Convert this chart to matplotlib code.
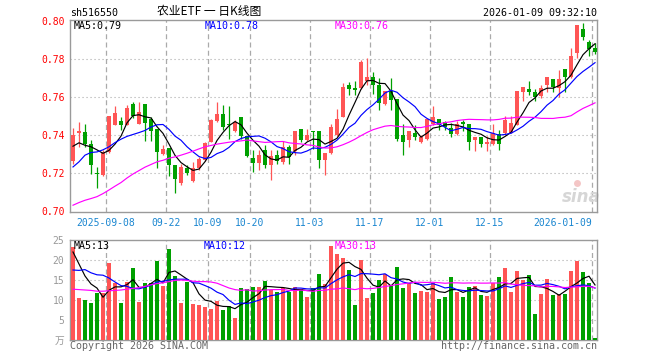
import matplotlib
matplotlib.use("Agg")
import matplotlib.pyplot as plt
import numpy as np

# ---------------- data ----------------
symbol = "sh516550"
title = "农业ETF 一 日K线图"
timestamp = "2026-01-09 09:32:10"

opens = [0.7265, 0.7412, 0.7419, 0.7354, 0.7197, 0.7189, 0.7309, 0.7456, 0.7477, 0.7456,
         0.7563, 0.7461, 0.7563, 0.7484, 0.7435, 0.7300, 0.7333, 0.7242, 0.7149, 0.7228,
         0.7160, 0.7225, 0.7268, 0.7365, 0.7474, 0.7511, 0.7458, 0.7423, 0.7498, 0.7396,
         0.7281, 0.7256, 0.7321, 0.7242, 0.7298, 0.7260, 0.7339, 0.7316, 0.7432, 0.7374,
         0.7421, 0.7421, 0.7272, 0.7304, 0.7400, 0.7496, 0.7663, 0.7646, 0.7646, 0.7686,
         0.7704, 0.7663, 0.7563, 0.7633, 0.7588, 0.7400, 0.7374, 0.7409, 0.7365, 0.7379,
         0.7461, 0.7484, 0.7470, 0.7440, 0.7405, 0.7467, 0.7461, 0.7377, 0.7388, 0.7356,
         0.7356, 0.7405, 0.7409, 0.7412, 0.7453, 0.7628, 0.7642, 0.7625, 0.7605, 0.7663,
         0.7693, 0.7649, 0.7747, 0.7707, 0.7830, 0.7958, 0.7891, 0.7856]
highs = [0.7439, 0.7467, 0.7461, 0.7374, 0.7233, 0.7321, 0.7500, 0.7554, 0.7496, 0.7558,
         0.7572, 0.7572, 0.7565, 0.7496, 0.7435, 0.7347, 0.7333, 0.7242, 0.7251, 0.7242,
         0.7260, 0.7286, 0.7363, 0.7484, 0.7572, 0.7558, 0.7553, 0.7479, 0.7498, 0.7396,
         0.7321, 0.7321, 0.7347, 0.7321, 0.7321, 0.7368, 0.7347, 0.7421, 0.7432, 0.7432,
         0.7423, 0.7421, 0.7304, 0.7461, 0.7540, 0.7672, 0.7681, 0.7684, 0.7795, 0.7804,
         0.7733, 0.7698, 0.7633, 0.7702, 0.7588, 0.7461, 0.7423, 0.7453, 0.7400, 0.7484,
         0.7554, 0.7484, 0.7474, 0.7465, 0.7474, 0.7479, 0.7461, 0.7388, 0.7388, 0.7395,
         0.7461, 0.7426, 0.7500, 0.7500, 0.7632, 0.7653, 0.7684, 0.7642, 0.7663, 0.7705,
         0.7693, 0.7742, 0.7747, 0.7856, 0.7979, 0.7988, 0.7900, 0.7882]
lows = [0.7251, 0.7339, 0.7339, 0.7195, 0.7123, 0.7185, 0.7304, 0.7453, 0.7426, 0.7453,
        0.7488, 0.7458, 0.7368, 0.7368, 0.7228, 0.7295, 0.7184, 0.7096, 0.7137, 0.7189,
        0.7154, 0.7216, 0.7265, 0.7362, 0.7470, 0.7426, 0.7379, 0.7418, 0.7379, 0.7286,
        0.7207, 0.7216, 0.7225, 0.7163, 0.7251, 0.7251, 0.7247, 0.7295, 0.7365, 0.7368,
        0.7330, 0.7230, 0.7189, 0.7300, 0.7396, 0.7496, 0.7611, 0.7611, 0.7642, 0.7663,
        0.7619, 0.7532, 0.7558, 0.7532, 0.7372, 0.7295, 0.7339, 0.7374, 0.7360, 0.7374,
        0.7453, 0.7426, 0.7426, 0.7391, 0.7400, 0.7420, 0.7323, 0.7319, 0.7339, 0.7319,
        0.7347, 0.7321, 0.7400, 0.7409, 0.7453, 0.7579, 0.7611, 0.7579, 0.7593, 0.7628,
        0.7625, 0.7602, 0.7628, 0.7698, 0.7804, 0.7900, 0.7818, 0.7825]
closes = [0.7400, 0.7423, 0.7354, 0.7242, 0.7195, 0.7309, 0.7500, 0.7519, 0.7453, 0.7542,
          0.7500, 0.7523, 0.7465, 0.7423, 0.7312, 0.7325, 0.7242, 0.7168, 0.7233, 0.7202,
          0.7230, 0.7277, 0.7361, 0.7482, 0.7511, 0.7442, 0.7453, 0.7470, 0.7396, 0.7291,
          0.7256, 0.7298, 0.7242, 0.7289, 0.7263, 0.7339, 0.7286, 0.7421, 0.7374, 0.7400,
          0.7416, 0.7272, 0.7304, 0.7442, 0.7484, 0.7654, 0.7642, 0.7640, 0.7786, 0.7707,
          0.7663, 0.7567, 0.7633, 0.7584, 0.7379, 0.7365, 0.7423, 0.7391, 0.7391, 0.7484,
          0.7498, 0.7453, 0.7444, 0.7404, 0.7458, 0.7458, 0.7365, 0.7388, 0.7356, 0.7363,
          0.7409, 0.7356, 0.7482, 0.7465, 0.7632, 0.7653, 0.7628, 0.7602, 0.7646, 0.7705,
          0.7654, 0.7695, 0.7707, 0.7816, 0.7979, 0.7918, 0.7851, 0.7839]
volumes = [23.3, 10.5, 10.0, 9.3, 11.8, 11.8, 19.25, 14.25, 9.3, 14.6,
           18.0, 9.6, 14.25, 14.25, 19.75, 13.5, 22.75, 16.0, 9.3, 14.6,
           9.0, 8.75, 8.2, 7.75, 9.8, 7.5, 8.5, 5.6, 12.9, 12.75,
           13.3, 13.3, 14.8, 12.5, 12.1, 12.9, 12.1, 13.3, 12.7, 10.8,
           12.9, 16.5, 14.1, 23.5, 21.5, 20.5, 17.5, 8.75, 20.0, 10.5,
           11.8, 15.0, 16.5, 13.75, 18.2, 12.9, 14.2, 11.7, 12.25, 11.9,
           14.3, 10.25, 10.7, 15.7, 12.1, 10.7, 13.2, 13.5, 11.25, 11.0,
           14.2, 15.7, 17.9, 11.9, 17.25, 15.0, 16.25, 6.5, 11.5, 15.2,
           11.25, 11.5, 11.5, 17.25, 19.75, 16.9, 14.3, 0.6]

# moving-average values at the left edge (window reaches before the shown range),
# read from the picture
ma5_head = [0.7342, 0.7360, 0.7347, 0.7339]
ma10_head = [0.7233, 0.7260, 0.7295, 0.7309, 0.7312, 0.7323, 0.7339, 0.7361, 0.7379]
ma30_head = [0.7032, 0.7046, 0.7058, 0.7067, 0.7077, 0.7093, 0.7112, 0.7132, 0.7151, 0.7175,
             0.7196, 0.7214, 0.7232, 0.7246, 0.7260, 0.7268, 0.7279, 0.7286, 0.7295, 0.7305,
             0.7316, 0.7328, 0.7339, 0.7346, 0.7353, 0.7358, 0.7363, 0.7367, 0.7370]
vma5_head = [22.0, 19.0, 16.0, 14.0]
vma10_head = [17.5, 17.4, 17.6, 16.8, 16.3, 16.2, 15.5, 14.5, 13.6]
vma30_head = [12.7, 12.6, 12.5, 12.4, 12.2, 12.2, 12.3, 12.4, 12.5, 12.7,
              12.9, 13.1, 13.4, 13.8, 14.1, 14.3, 14.6, 14.9, 15.0, 14.9,
              14.7, 14.6, 14.6, 14.5, 14.2, 13.6, 13.0, 12.6, 12.4]

tick_idx = [6, 16, 23, 30, 40, 50, 60, 70, 87]
tick_labels = ["2025-09-08", "09-22", "10-09", "10-20", "11-03", "11-17", "12-01", "12-15", "2026-01-09"]
price_ticks = [0.70, 0.72, 0.74, 0.76, 0.78, 0.80]
vol_ticks = [0, 5, 10, 15, 20, 25]
vol_tick_labels = ["万", "5", "10", "15", "20", "25"]


def moving_avg(vals, n, head):
    vals = np.asarray(vals, dtype=float)
    out = list(head)
    for i in range(n - 1, len(vals)):
        out.append(vals[i - n + 1:i + 1].mean())
    return np.array(out)


o = np.array(opens); h = np.array(highs); l = np.array(lows); c = np.array(closes)
v = np.array(volumes)
x = np.arange(len(c))
ma5 = moving_avg(c, 5, ma5_head)
ma10 = moving_avg(c, 10, ma10_head)
ma30 = moving_avg(c, 30, ma30_head)
vma5 = moving_avg(v, 5, vma5_head)
vma10 = moving_avg(v, 10, vma10_head)
vma30 = moving_avg(v, 30, vma30_head)

RED = "#ff5555"
GREEN = "#00a000"
GRID = "#aaaaaa"
SPINE = "#9a9a9a"
MONO = "DejaVu Sans Mono"
CJK = ["Noto Sans CJK SC", "DejaVu Sans"]

up = c >= o
colors = np.where(up, RED, GREEN)

W, H = 660, 360
fig = plt.figure(figsize=(W / 100, H / 100), dpi=100)
fig.patch.set_facecolor("white")


def fx(px):
    return px / W


def fy(py):
    return 1 - py / H


ax = fig.add_axes([fx(70), fy(212), fx(527), 192 / H])
axv = fig.add_axes([fx(70), fy(340), fx(527), 100 / H])

xlim = (-0.5, 87.33)
for a in (ax, axv):
    a.set_xlim(*xlim)
    for s in a.spines.values():
        s.set_color(SPINE)
        s.set_linewidth(1.0)
    a.tick_params(length=0)
    for t in tick_idx:
        a.axvline(t - 0.5, color=GRID, lw=0.9, ls=(0, (4, 2.6)), zorder=1)

ax.set_ylim(0.69963, 0.80053)
axv.set_ylim(0, 25)

for p in price_ticks[1:-1]:
    ax.axhline(p, color=GRID, lw=0.8, ls=(0, (1, 2.6)), zorder=1)
for vv in vol_ticks[1:-1]:
    axv.axhline(vv, color=GRID, lw=0.8, ls=(0, (1, 2.6)), zorder=1)

# sina watermark (behind the data)
ax.text(0.97, 0.08, "sina", transform=ax.transAxes, fontsize=12, family="DejaVu Sans",
        style="italic", weight="bold", color="#d6d6d6", ha="center", va="center", zorder=2)
ax.plot([0.962], [0.15], transform=ax.transAxes, marker="o", ms=5, color="#f4c6c6",
        mec="none", zorder=2, clip_on=False)

# candles
ax.vlines(x, l, h, colors=colors, lw=0.9, zorder=3)
body_bottom = np.minimum(o, c)
body_h = np.maximum(np.abs(c - o), 0.0004)
ax.bar(x, body_h, bottom=body_bottom, width=0.8, color=colors, linewidth=0, zorder=4)

ax.plot(x, ma5, color="black", lw=0.85, zorder=5)
ax.plot(x, ma10, color="#0000ff", lw=0.85, zorder=5)
ax.plot(x, ma30, color="#ff00ff", lw=0.85, zorder=5)

# volume
axv.bar(x, v, width=0.8, color=colors, linewidth=0, zorder=3)
axv.plot(x, vma5, color="black", lw=0.85, zorder=5)
axv.plot(x, vma10, color="#0000ff", lw=0.85, zorder=5)
axv.plot(x, vma30, color="#ff00ff", lw=0.85, zorder=5)

# ticks
ax.set_yticks(price_ticks)
ax.set_yticklabels([f"{p:.2f}" for p in price_ticks], color="red", fontsize=7, family=MONO)
ax.tick_params(axis="y", pad=4)
ax.set_xticks([t - 0.5 for t in tick_idx])
ax.set_xticklabels(tick_labels, color="#1a86d0", fontsize=7, family=MONO)
ax.tick_params(axis="x", pad=4)
ax.get_xticklabels()[-1].set_ha("right")

axv.set_yticks(vol_ticks)
axv.set_yticklabels(vol_tick_labels, color="#999999", fontsize=7, family=[MONO, "Noto Sans CJK SC"])
axv.tick_params(axis="y", pad=4)
axv.set_xticks([])

# header texts
fig.text(fx(70), fy(13), symbol, fontsize=7.2, family=MONO, va="center", ha="left")
fig.text(fx(209), fy(12), title, fontsize=8.5, family=CJK, va="center", ha="center")
fig.text(fx(597), fy(13), timestamp, fontsize=7.2, family=MONO, va="center", ha="right")

fig.text(fx(74), fy(26), f"MA5:{ma5[-1]:.2f}", fontsize=7.2, family=MONO, va="center", color="black")
fig.text(fx(205), fy(26), f"MA10:{ma10[-1]:.2f}", fontsize=7.2, family=MONO, va="center", color="#0000ff")
fig.text(fx(335), fy(26), f"MA30:{ma30[-1]:.2f}", fontsize=7.2, family=MONO, va="center", color="#ff00ff")

fig.text(fx(74), fy(246), f"MA5:{int(vma5[-1])}", fontsize=7.2, family=MONO, va="center", color="black")
fig.text(fx(204), fy(246), f"MA10:{int(vma10[-1])}", fontsize=7.2, family=MONO, va="center", color="#0000ff")
fig.text(fx(335), fy(246), f"MA30:{int(vma30[-1])}", fontsize=7.2, family=MONO, va="center", color="#ff00ff")

fig.text(fx(70), fy(346), "Copyright 2026 SINA.COM", fontsize=7.2, family=MONO, va="center", color="#666666")
fig.text(fx(597), fy(346), "http://finance.sina.com.cn", fontsize=7.2, family=MONO, va="center", ha="right", color="#666666")

fig.savefig("out.png", dpi=100)
